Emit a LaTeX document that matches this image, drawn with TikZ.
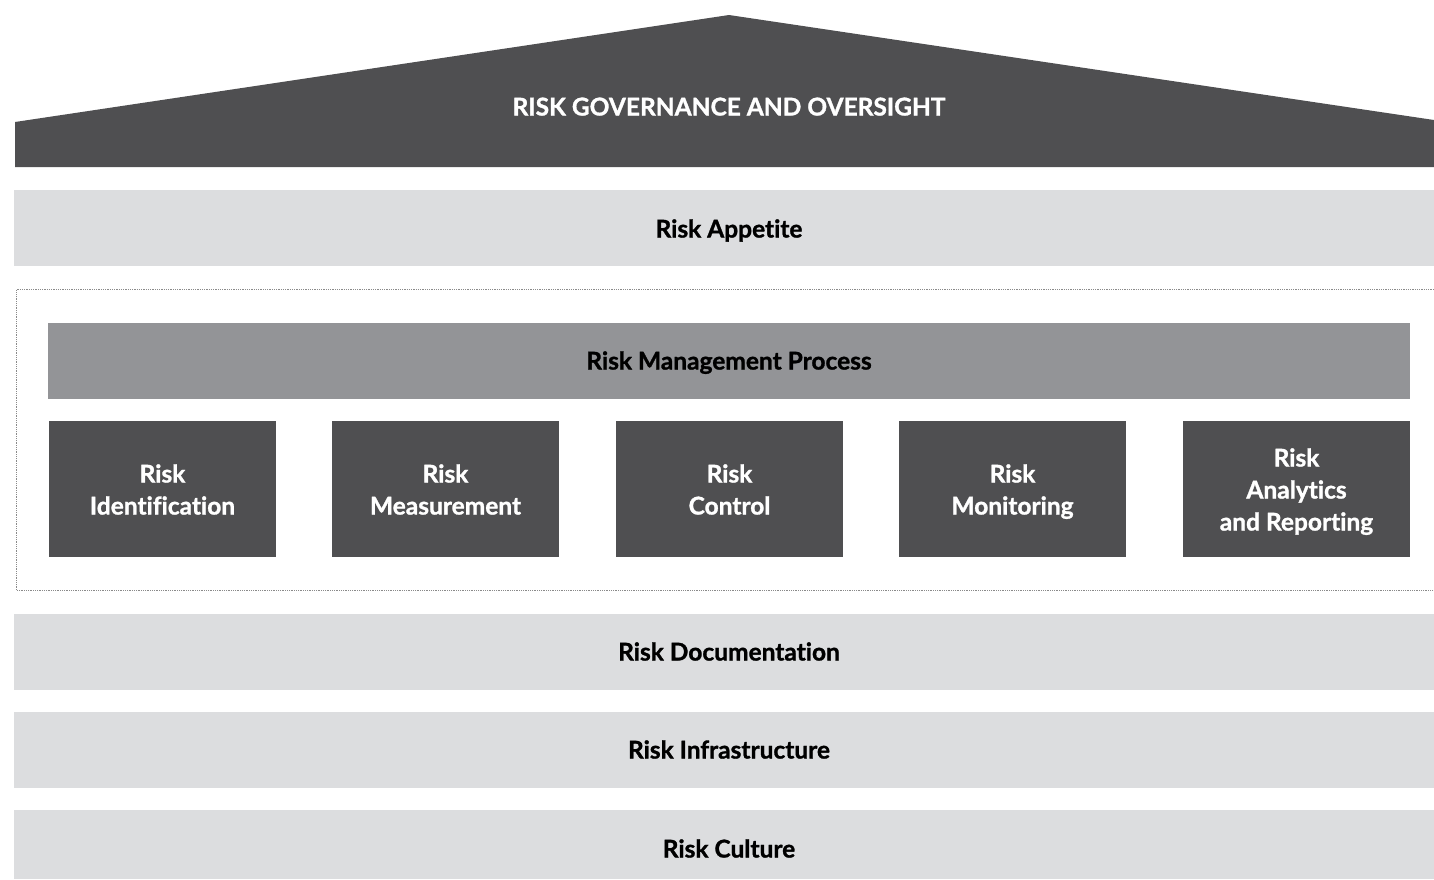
\documentclass[tikz,border=0pt]{standalone}
\usepackage{fontspec}
\setmainfont{Lato}[BoldFont={Lato Bold}, BoldFeatures={FakeBold=1.2}, Ligatures={NoCommon}]
\definecolor{darkg}{HTML}{4F4F51}
\definecolor{lightg}{HTML}{DCDDDF}
\definecolor{midg}{HTML}{939497}
\definecolor{dotg}{HTML}{8A8A8A}
\tikzset{
  txt/.style={font=\bfseries\fontsize{24.5}{32}\selectfont},
  band/.style={txt, fill=lightg, draw=none, inner sep=0pt, minimum height=76pt, minimum width=1430pt, text=black, text height=17pt, text depth=0pt},
  procbar/.style={txt, fill=midg, draw=none, inner sep=0pt, minimum height=76pt, minimum width=1362pt, text=black, text height=17pt, text depth=0pt},
  stepbox/.style={txt, fill=darkg, draw=none, inner sep=0pt, minimum height=136pt, minimum width=227pt, text=white, align=center, text height=51pt, text depth=0pt},
  rooflabel/.style={txt, text=white, inner sep=0pt, text height=17pt, text depth=0pt}
}
\begin{document}
\begin{tikzpicture}[x=1pt,y=-1pt]
\useasboundingbox (0,0) rectangle (1434,879);
% roof
\fill[darkg] (15,122) -- (729,15) -- (1434,120) -- (1434,167) -- (15,167) -- cycle;
\node[rooflabel] (gov) at (729,107) {RISK GOVERNANCE AND OVERSIGHT};
% appetite
\node[band, text height=19pt] (app) at (729,228) {Risk Appetite};
% dotted frame
\draw[dotg, densely dotted, line width=0.8pt] (1434,289.5) -- (16.5,289.5) -- (16.5,590.5) -- (1434,590.5);
% process bar
\node[procbar] (proc) at (729,361) {Risk Management Process};
\node[stepbox] (s1) at (162.5,489) {Risk\\Identification};
\node[stepbox] (s2) at (445.5,489) {Risk\\Measurement};
\node[stepbox] (s3) at (729.5,489) {Risk\\Control};
\node[stepbox] (s4) at (1012.5,489) {Risk\\Monitoring};
\node[stepbox, text height=83pt] (s5) at (1296.5,489) {Risk\\Analytics\\and Reporting};
% lower bands
\node[band] (doc) at (729,652) {Risk Documentation};
\node[band] (inf) at (729,750) {Risk Infrastructure};
\node[band, minimum height=69pt, text height=26pt] (cul) at (729,844.5) {Risk Culture};
\end{tikzpicture}
\end{document}
